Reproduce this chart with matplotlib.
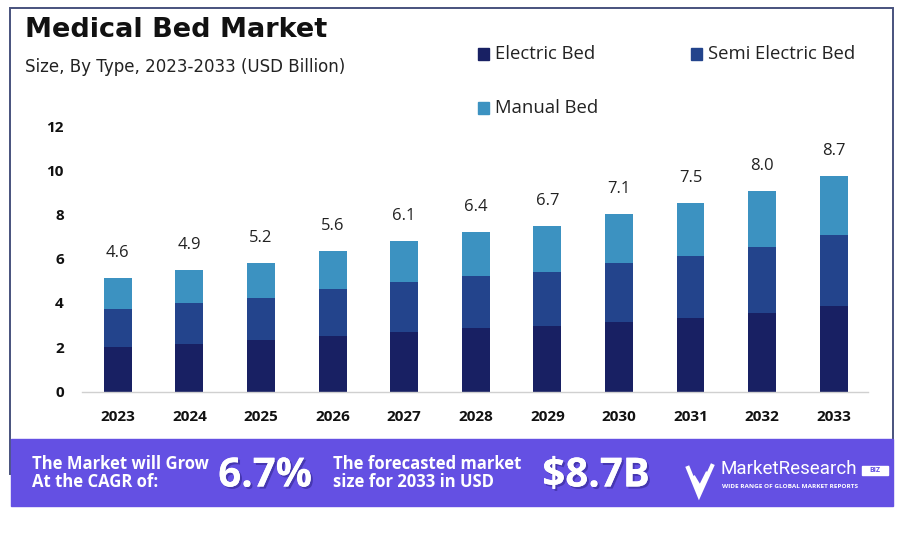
import matplotlib
matplotlib.use("Agg")
import matplotlib.pyplot as plt
import matplotlib.patheffects as pe
from matplotlib.patches import Rectangle
from matplotlib.lines import Line2D
import numpy as np

years = ["2023", "2024", "2025", "2026", "2027", "2028", "2029", "2030", "2031", "2032", "2033"]
electric = [2.03, 2.16, 2.32, 2.51, 2.69, 2.86, 2.98, 3.14, 3.34, 3.57, 3.87]
semi_electric = [1.69, 1.84, 1.90, 2.11, 2.26, 2.37, 2.44, 2.66, 2.79, 2.98, 3.20]
manual = [1.43, 1.51, 1.61, 1.72, 1.86, 2.00, 2.07, 2.22, 2.39, 2.49, 2.65]
total_labels = ["4.6", "4.9", "5.2", "5.6", "6.1", "6.4", "6.7", "7.1", "7.5", "8.0", "8.7"]
series_names = ["Electric Bed", "Semi Electric Bed", "Manual Bed"]
colors = ["#182063", "#23448C", "#3C92C1"]

cagr = "6.7%"
forecast = "$8.7B"

plt.rcParams['font.family'] = ['Open Sans', 'DejaVu Sans']

W, H = 900, 540
fig = plt.figure(figsize=(9, 5.4), dpi=100)
fig.patch.set_facecolor("white")

def fx(x):
    return x / W

def fy(y):
    return 1 - y / H

# outer frame
fig.patches.append(Rectangle((fx(9.5), fy(474)), fx(883), (474 - 7.5) / H,
                             transform=fig.transFigure, fill=False,
                             edgecolor="#48527d", linewidth=1.4, zorder=0))

# title and subtitle
fig.text(fx(25), fy(30), "Medical Bed Market", fontsize=19.5, fontweight="bold",
         color="#111111", va="center", ha="left", family="DejaVu Sans")
fig.text(fx(25), fy(67), "Size, By Type, 2023-2033 (USD Billion)", fontsize=12,
         color="#222222", va="center", ha="left", family="DejaVu Sans")

# plot area
ax = fig.add_axes([fx(82), fy(391.5), fx(868) - fx(82), (391.5 - 126) / H])
x = np.arange(len(years))
bw = 0.39
bottom = np.zeros(len(years))
for vals, name, c in zip([electric, semi_electric, manual], series_names, colors):
    ax.bar(x, vals, bw, bottom=bottom, color=c, label=name, zorder=2)
    bottom = bottom + np.array(vals)

for xi, top, lab in zip(x, bottom, total_labels):
    ax.annotate(lab, (xi, top), xytext=(0, 18), textcoords="offset points",
                ha="center", va="center", fontsize=12, color="#222222")

ax.set_xlim(-0.5, 10.48)
ax.set_ylim(0, 12)
ax.set_yticks([0, 2, 4, 6, 8, 10, 12])
ax.set_xticks(x)
ax.set_xticklabels(years)
ax.tick_params(axis="both", length=0, labelsize=11)
ax.tick_params(axis="y", pad=13)
ax.tick_params(axis="x", pad=13)
for lbl in ax.get_xticklabels() + ax.get_yticklabels():
    lbl.set_fontweight("bold")
    lbl.set_color("#111111")
for s in ["top", "right", "left"]:
    ax.spines[s].set_visible(False)
ax.spines["bottom"].set_color("#d0d0d0")
ax.spines["bottom"].set_linewidth(1)
ax.patch.set_alpha(0)

# legend (manually placed to match layout)
leg_pos = [(478, 54), (691, 54), (478, 108)]
for (lx, ly), name, c in zip(leg_pos, series_names, colors):
    fig.patches.append(Rectangle((fx(lx), fy(ly + 6)), fx(11), 12 / H,
                                 transform=fig.transFigure, color=c))
    fig.text(fx(lx + 17), fy(ly), name, fontsize=13.3, color="#222222",
             va="center", ha="left")

# bottom banner
fig.patches.append(Rectangle((fx(10.5), fy(506)), fx(893 - 10.5), (506 - 439) / H,
                             transform=fig.transFigure, color="#6450E3", zorder=1))
shadow = [pe.withSimplePatchShadow(offset=(1.5, -1.5), shadow_rgbFace="#2a1f80", alpha=0.5),
          pe.Normal()]
fig.text(fx(32), fy(473), "The Market will Grow\nAt the CAGR of:", fontsize=12,
         fontweight="bold", color="white", va="center", ha="left", linespacing=1.05, zorder=3)
fig.text(fx(265), fy(476), cagr, fontsize=29, fontweight="bold", color="white",
         va="center", ha="center", path_effects=shadow, zorder=3)
fig.text(fx(333), fy(473), "The forecasted market\nsize for 2033 in USD", fontsize=12,
         fontweight="bold", color="white", va="center", ha="left", linespacing=1.05, zorder=3)
fig.text(fx(596), fy(476), forecast, fontsize=29, fontweight="bold", color="white",
         va="center", ha="center", path_effects=shadow, zorder=3)

# logo
for pts in [[(688, 468), (699, 495), (712, 466)], [(694, 478), (700, 488), (707, 474)]]:
    xs = [fx(p[0]) for p in pts]
    ys = [fy(p[1]) for p in pts]
    fig.add_artist(Line2D(xs, ys, color="white", linewidth=3, solid_joinstyle="miter", zorder=3))
fig.text(fx(721), fy(469), "MarketResearch", fontsize=13.5, color="white",
         va="center", ha="left", family="Roboto", zorder=3)
fig.patches.append(Rectangle((fx(862), fy(475)), fx(26), 9 / H,
                             transform=fig.transFigure, color="white", zorder=3))
fig.text(fx(875), fy(470.5), "BIZ", fontsize=5, color="#6450E3", fontweight="bold",
         va="center", ha="center", zorder=4)
fig.text(fx(722), fy(487), "WIDE RANGE OF GLOBAL MARKET REPORTS", fontsize=4.6,
         color="white", fontweight="bold", va="center", ha="left", zorder=3)

fig.savefig("out.png", dpi=100, facecolor="white")
